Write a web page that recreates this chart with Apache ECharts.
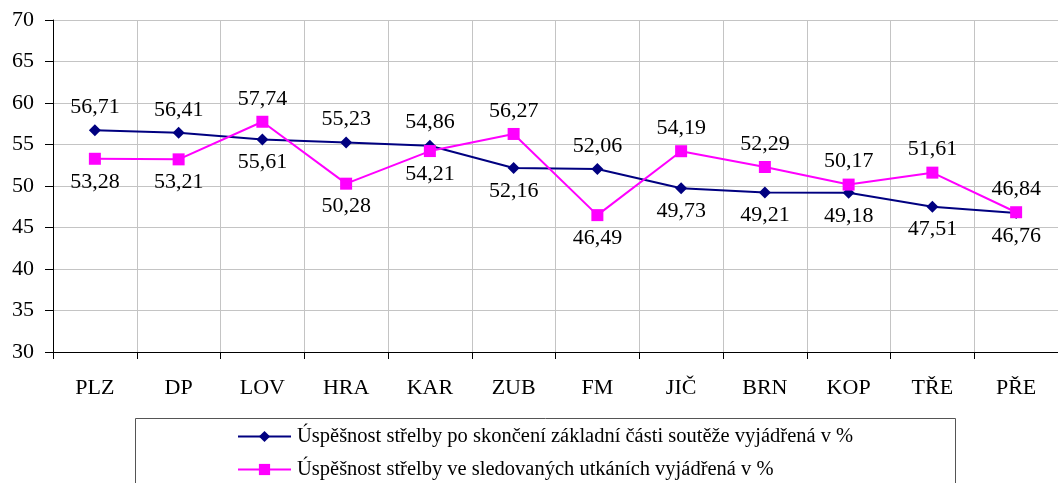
<!DOCTYPE html>
<html>
<head>
<meta charset="utf-8">
<script src="https://cdn.jsdelivr.net/npm/echarts@6/dist/echarts.min.js"></script>
<style>
html,body{margin:0;padding:0;background:#fff;}
#chart{width:1058px;height:483px;}
</style>
</head>
<body>
<div id="chart"></div>
<script>
const categories = ['PLZ','DP','LOV','HRA','KAR','ZUB','FM','JIČ','BRN','KOP','TŘE','PŘE'];
const seriesNames = [
  'Úspěšnost střelby po skončení základní části soutěže vyjádřená v %',
  'Úspěšnost střelby ve sledovaných utkáních vyjádřená v %'
];
const basicPart = [56.71,56.41,55.61,55.23,54.86,52.16,52.06,49.73,49.21,49.18,47.51,46.76];
const watched = [53.28,53.21,57.74,50.28,54.21,56.27,46.49,54.19,52.29,50.17,51.61,46.84];
const basicLabelSide = ['top','top','bottom','top','top','bottom','top','bottom','bottom','bottom','bottom','bottom'];
const watchedLabelSide = ['bottom','bottom','top','bottom','bottom','top','bottom','top','top','top','top','top'];
const yTicks = [30,35,40,45,50,55,60,65,70];

const FONT = '"Liberation Serif", "Times New Roman", serif';
const fmt = v => v.toFixed(2).replace('.', ',');

function buildData(values, sides) {
  return values.map((v, i) => ({
    value: v,
    label: { position: sides[i] }
  }));
}

const chart = echarts.init(document.getElementById('chart'), null, { renderer: 'canvas' });
chart.setOption({
  animation: false,
  backgroundColor: '#ffffff',
  grid: { left: 53, right: -13, top: 20, bottom: 131, containLabel: false },
  xAxis: {
    type: 'category',
    data: categories,
    boundaryGap: true,
    axisLine: { show: true, lineStyle: { color: '#000', width: 1 } },
    axisTick: { show: true, length: 7, lineStyle: { color: '#000' } },
    axisLabel: { margin: 25, fontFamily: FONT, fontSize: 22, color: '#000' },
    splitLine: { show: true, lineStyle: { color: '#c4c4c4', width: 1 } }
  },
  yAxis: {
    type: 'value',
    min: yTicks[0],
    max: yTicks[yTicks.length - 1],
    interval: 5,
    axisLine: { show: true, lineStyle: { color: '#000', width: 1 } },
    axisTick: { show: true, length: 8, lineStyle: { color: '#000' } },
    axisLabel: { margin: 19, fontFamily: FONT, fontSize: 22, color: '#000' },
    splitLine: { show: true, lineStyle: { color: '#c4c4c4', width: 1 } }
  },
  legend: {
    orient: 'vertical',
    left: 237,
    top: 426,
    itemWidth: 53,
    itemHeight: 14,
    itemGap: 12,
    padding: 0,
    textStyle: { fontFamily: FONT, fontSize: 20.5, color: '#000', padding: [0, 0, 0, 1] },
    data: seriesNames
  },
  graphic: [{
    type: 'rect',
    shape: { x: 135.5, y: 418.5, width: 820, height: 80 },
    style: { fill: 'none', stroke: '#555', lineWidth: 1 },
    z: -1
  }],
  series: [
    {
      name: seriesNames[0],
      type: 'line',
      data: buildData(basicPart, basicLabelSide),
      symbol: 'diamond',
      symbolSize: 12,
      itemStyle: { color: '#000080' },
      lineStyle: { color: '#000080', width: 2 },
      label: {
        show: true, distance: 6,
        formatter: p => fmt(p.value),
        fontFamily: FONT, fontSize: 22, color: '#000'
      },
      z: 3
    },
    {
      name: seriesNames[1],
      type: 'line',
      data: buildData(watched, watchedLabelSide),
      symbol: 'rect',
      symbolSize: 12,
      itemStyle: { color: '#ff00ff' },
      lineStyle: { color: '#ff00ff', width: 2 },
      label: {
        show: true, distance: 6,
        formatter: p => fmt(p.value),
        fontFamily: FONT, fontSize: 22, color: '#000'
      },
      z: 4
    }
  ]
});
</script>
</body>
</html>
